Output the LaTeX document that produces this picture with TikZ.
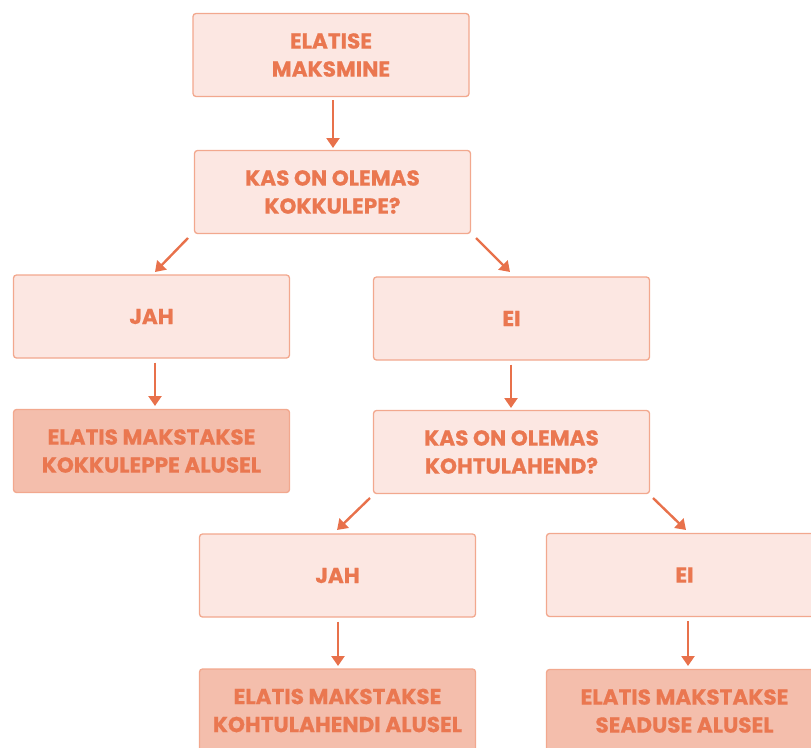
\documentclass[tikz,border=0pt]{standalone}
\usepackage{fontspec}
\setmainfont{Poppins}[BoldFeatures={FakeBold=0.6}]
\usetikzlibrary{arrows.meta}
\definecolor{lightfill}{HTML}{FCE7E2}
\definecolor{darkfill}{HTML}{F4BEAC}
\definecolor{boxline}{HTML}{F2A88E}
\definecolor{txt}{HTML}{EA7750}
\definecolor{arr}{HTML}{E8714B}
\begin{document}
\begin{tikzpicture}[x=1pt,y=-1pt,
  lightbox/.style={draw=boxline,line width=1.3pt,fill=lightfill,rounded corners=3pt,
    minimum width=276pt,minimum height=83pt,inner sep=0pt,align=center,
    text=txt,font=\fontsize{21.6}{28}\selectfont\bfseries},
  darkbox/.style={lightbox,fill=darkfill},
  conn/.style={draw=arr,line width=2.4pt,-{Triangle[length=10pt,width=13pt]}}]
\useasboundingbox (0,0) rectangle (811,747);
\node[lightbox] (start) at (331,55) {ELATISE\\MAKSMINE};
\node[lightbox] (q1) at (332.5,192) {KAS ON OLEMAS\\KOKKULEPE?};
\node[lightbox] (yes1) at (151.5,316.5) {JAH};
\node[lightbox] (no1) at (511.5,318.5) {EI};
\node[darkbox] (res1) at (151.5,451) {ELATIS MAKSTAKSE\\KOKKULEPPE ALUSEL};
\node[lightbox] (q2) at (511.5,452) {KAS ON OLEMAS\\KOHTULAHEND?};
\node[lightbox] (yes2) at (337.5,575.5) {JAH};
\node[lightbox] (no2) at (684.5,575) {EI};
\node[darkbox] (res2) at (337.5,710.5) {ELATIS MAKSTAKSE\\KOHTULAHENDI ALUSEL};
\node[darkbox] (res3) at (684.5,711) {ELATIS MAKSTAKSE\\SEADUSE ALUSEL};
\coordinate (q1l) at (188,238);
\coordinate (q1r) at (476,238);
\coordinate (q2l) at (370,498);
\coordinate (q2r) at (653,498);
\draw[conn] (start.south -| 333,0) ++(0,3) -- (333,148);
\draw[conn] (q1l) -- (155,272);
\draw[conn] (q1r) -- (510,272);
\draw[conn] (yes1.south -| 155,0) ++(0,4) -- (155,406);
\draw[conn] (no1.south -| 511,0) ++(0,4) -- (511,408);
\draw[conn] (q2l) -- (337,530);
\draw[conn] (q2r) -- (686,530);
\draw[conn] (yes2.south -| 338,0) ++(0,4) -- (338,666);
\draw[conn] (no2.south -| 688,0) ++(0,4) -- (688,666);
\end{tikzpicture}
\end{document}
